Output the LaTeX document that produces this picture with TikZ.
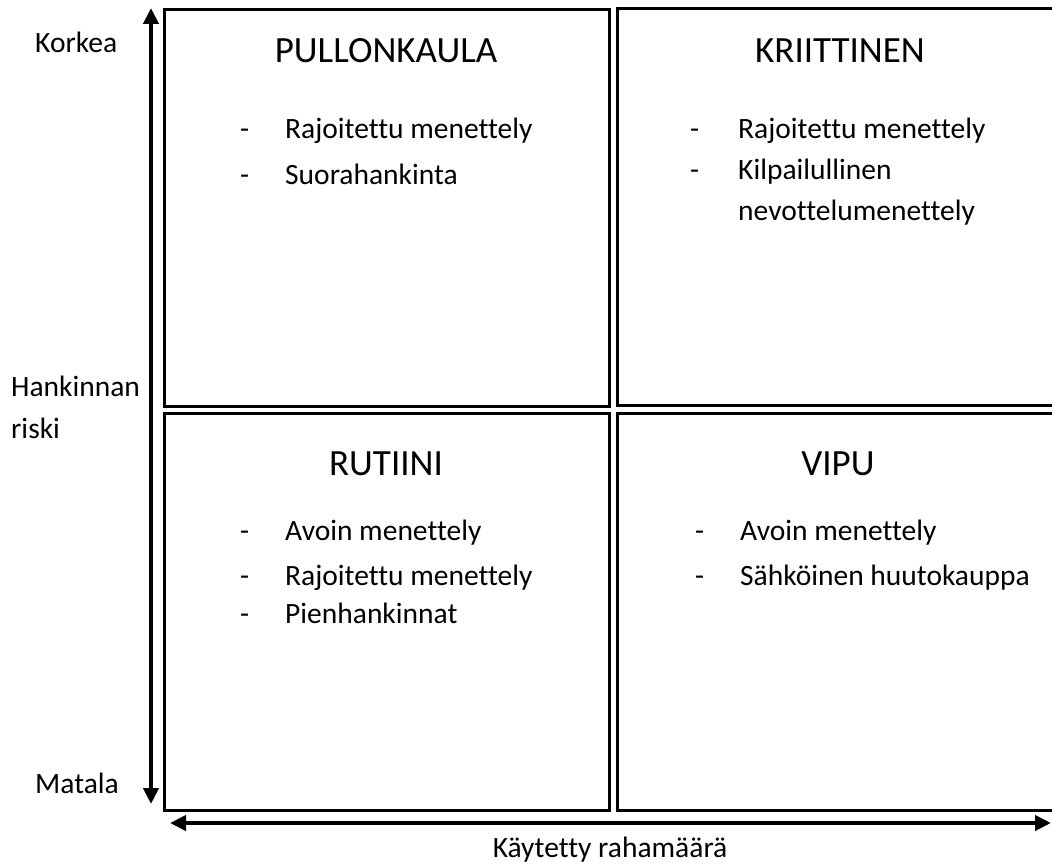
\documentclass[tikz,border=0pt]{standalone}
\usepackage{fontspec}
\setmainfont{Carlito}[Ligatures=NoCommon]
\usetikzlibrary{arrows.meta}
\begin{document}
\begin{tikzpicture}[x=1pt,y=-1pt,>={Triangle[length=16pt,width=15pt]}]
 \tikzstyle{quad} = [draw=black,line width=3pt]
 \tikzstyle{axis} = [line width=4pt,<->]
 \tikzstyle{title} = [anchor=base,inner sep=0,font=\fontsize{37}{44}\selectfont]
 \tikzstyle{item} = [anchor=base west,inner sep=0,font=\fontsize{29.5}{35}\selectfont]

  \path[use as bounding box,clip] (0,0) rectangle (1052,867);

  % Quadrants
  \coordinate (tl1) at (164,10);  \coordinate (tl2) at (609,406);
  \coordinate (tr1) at (617,9);   \coordinate (tr2) at (1062,405);
  \coordinate (bl1) at (164,413); \coordinate (bl2) at (609,810);
  \coordinate (br1) at (617,413); \coordinate (br2) at (1062,810);

  \draw[quad] (tl1) rectangle (tl2);
  \draw[quad] (tr1) rectangle (tr2);
  \draw[quad] (bl1) rectangle (bl2);
  \draw[quad] (br1) rectangle (br2);

  % Axes
  \coordinate (vtop) at (151,8);   \coordinate (vbot) at (151,804);
  \coordinate (hleft) at (170,823); \coordinate (hright) at (1051,823);
  \draw[axis] (vbot) -- (vtop);
  \draw[axis] (hleft) -- (hright);

  \node[item] (korkea) at (35,53) {Korkea};
  \node[item] (riski1) at (11,396) {Hankinnan};
  \node[item] (riski2) at (11,438) {riski};
  \node[item] (matala) at (35,793) {Matala};
  \node[item,anchor=base] (raha) at (610,857) {Käytetty rahamäärä};

  % Titles
  \node[title] (pullo) at (386,63) {PULLONKAULA};
  \node[title] (kriit) at (840,63) {KRIITTINEN};
  \node[title] (rutii) at (386,475) {RUTIINI};
  \node[title] (vipu)  at (838,475) {VIPU};

  % Procedures
  \node[item] (d1) at (240,138) {-}; \node[item] (t1) at (285,138) {Rajoitettu menettely};
  \node[item] (d2) at (240,184) {-}; \node[item] (t2) at (285,184) {Suorahankinta};

  \node[item] (d3) at (690,138) {-}; \node[item] (t3) at (738,138) {Rajoitettu menettely};
  \node[item] (d4) at (690,179) {-}; \node[item] (t4) at (738,179) {Kilpailullinen};
                                     \node[item] (t5) at (738,220) {nevottelumenettely};

  \node[item] (d6) at (240,540) {-}; \node[item] (t6) at (285,540) {Avoin menettely};
  \node[item] (d7) at (240,585) {-}; \node[item] (t7) at (285,585) {Rajoitettu menettely};
  \node[item] (d8) at (240,623) {-}; \node[item] (t8) at (285,623) {Pienhankinnat};

  \node[item] (d9) at (695,540) {-};  \node[item] (t9) at (740,540) {Avoin menettely};
  \node[item] (d10) at (695,585) {-}; \node[item] (t10) at (740,585) {Sähköinen huutokauppa};

\end{tikzpicture}
\end{document}
